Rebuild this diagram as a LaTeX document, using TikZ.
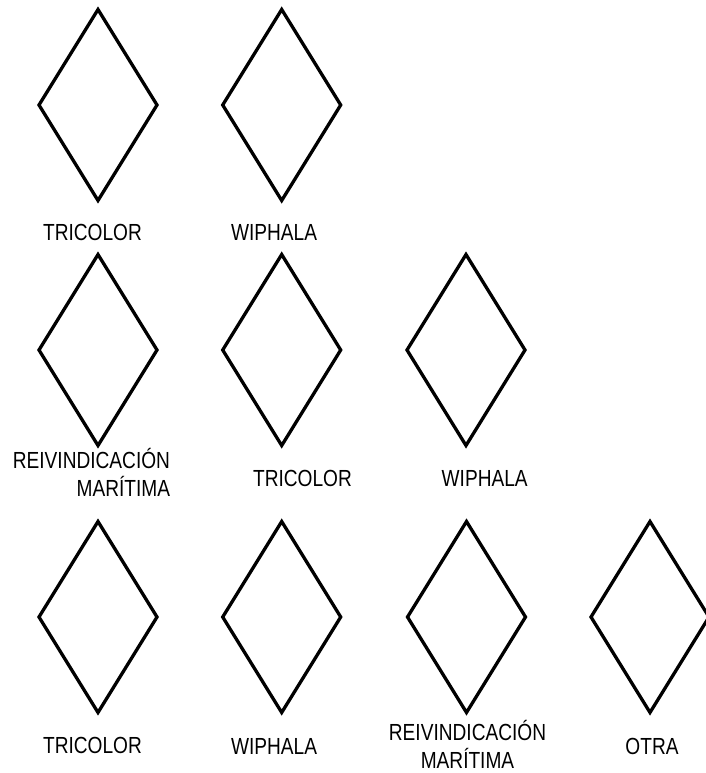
\documentclass[tikz,border=0pt]{standalone}
\usepackage{fontspec}
\setmainfont{Liberation Sans}[FakeStretch=0.82]
\usetikzlibrary{shapes.geometric}
\begin{document}
\begin{tikzpicture}[x=1pt,y=-1pt,
  flag/.style={diamond,draw=black,line width=3.3pt,minimum width=118pt,minimum height=191pt,inner sep=0pt,outer sep=0pt},
  lbl/.style={inner sep=0pt,outer sep=0pt,anchor=base,font=\fontsize{23.3}{27.8}\selectfont}]
\useasboundingbox[fill=white] (0,0) rectangle (705,773);
% row 1
\node[flag] (a1) at (98,105) {};
\node[flag] (a2) at (281.7,105) {};
\node[lbl] (ta1) at (92.5,240) {TRICOLOR};
\node[lbl] (ta2) at (274,240) {WIPHALA};
% row 2
\node[flag] (b1) at (98,350) {};
\node[flag] (b2) at (281.7,350) {};
\node[flag] (b3) at (466,350) {};
\node[lbl,anchor=base east,align=right] (tb1) at (170,496.7) {REIVINDICACIÓN\\MARÍTIMA};
\node[lbl] (tb2) at (302.5,486.7) {TRICOLOR};
\node[lbl] (tb3) at (484.7,486.7) {WIPHALA};
% row 3
\node[flag] (c1) at (98,617) {};
\node[flag] (c2) at (281.7,617) {};
\node[flag] (c3) at (466.5,617) {};
\node[flag] (c4) at (650,617) {};
\node[lbl] (tc1) at (92.5,753.5) {TRICOLOR};
\node[lbl] (tc2) at (274,754) {WIPHALA};
\node[lbl,align=center] (tc3) at (467.5,768.3) {REIVINDICACIÓN\\MARÍTIMA};
\node[lbl] (tc4) at (652,754) {OTRA};
\end{tikzpicture}
\end{document}
